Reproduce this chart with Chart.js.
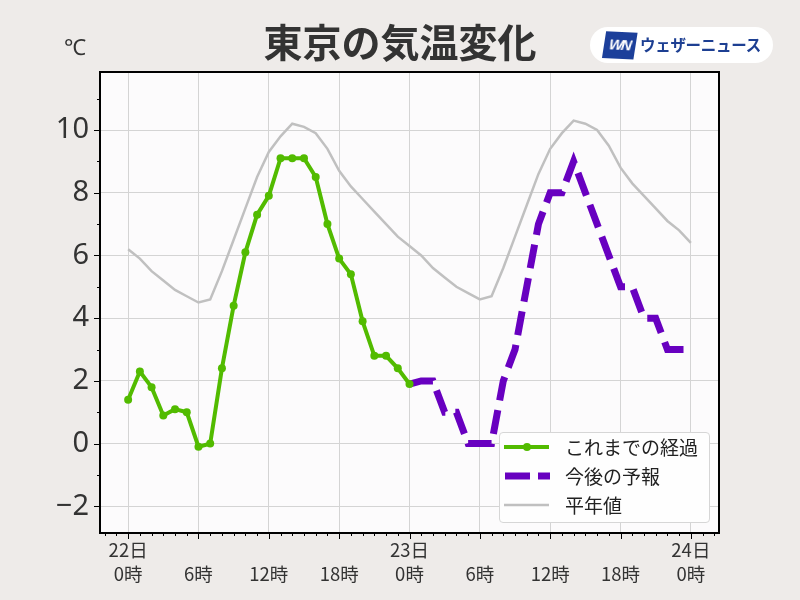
<!DOCTYPE html>
<html lang="ja">
<head>
<meta charset="utf-8">
<script src="https://cdn.jsdelivr.net/npm/chart.js@4.4.0/dist/chart.umd.min.js"></script>
<style>
  html, body { margin:0; padding:0; background:#eeebe9; }
  #wrap { position:relative; width:800px; height:600px; overflow:hidden; }
  #c { position:absolute; left:0; top:0; }
  .title { position:absolute; left:0; width:800px; top:12px; text-align:center;
    font:bold 39px "Noto Sans CJK JP", sans-serif; color:#333; }
  .unit { position:absolute; left:64px; top:31px; font:22px "Noto Sans", sans-serif; color:#333; }
  .logo { position:absolute; left:590px; top:27px; width:183px; height:36px; background:#fff;
    border-radius:18px; }
  .logo .mark { position:absolute; left:14px; top:5px; width:31px; height:26px; background:#1c3f9a;
    transform:skewX(-6deg) rotate(3deg); color:#fff; font:italic bold 15px "Liberation Sans", sans-serif;
    line-height:26px; text-align:center; letter-spacing:-2px; }
  .logo .txt { position:absolute; left:50px; top:6px; font:bold 15.5px "Noto Sans CJK JP", sans-serif;
    color:#1d3f92; white-space:nowrap; letter-spacing:-0.3px; }
  .legend { position:absolute; left:499px; top:432px; width:211px; height:91px; background:#fefefe;
    border:1px solid #d6d6d6; border-radius:4px; box-sizing:border-box; }
  .legend .row { position:absolute; left:0; height:28px; width:210px; }
  .legend svg { position:absolute; left:3px; top:0; }
  .legend span { position:absolute; left:65px; top:0; font:19px "Noto Sans CJK JP", sans-serif; color:#222;
    line-height:28px; white-space:nowrap; }
</style>
</head>
<body>
<div id="wrap">
  <canvas id="c" width="800" height="600"></canvas>
  <div class="title">東京の気温変化</div>
  <div class="unit">℃</div>
  <div class="logo"><div class="mark">WN</div><div class="txt">ウェザーニュース</div></div>
  <div class="legend">
    <div class="row" style="top:0px">
      <svg width="50" height="28"><line x1="1" y1="14" x2="46" y2="14" stroke="#52bb00" stroke-width="4"/><circle cx="24" cy="14" r="4" fill="#52bb00"/></svg>
      <span>これまでの経過</span>
    </div>
    <div class="row" style="top:29px">
      <svg width="50" height="28"><line x1="2" y1="14" x2="47" y2="14" stroke="#6800c0" stroke-width="7" stroke-dasharray="25,8"/></svg>
      <span>今後の予報</span>
    </div>
    <div class="row" style="top:58px">
      <svg width="50" height="28"><line x1="1" y1="14" x2="46" y2="14" stroke="#c0c0c0" stroke-width="2.5"/></svg>
      <span>平年値</span>
    </div>
  </div>
</div>
<script>
// ─── data (hours from 22日0時) ───────────────────────────────────────────────
const obsHours = [0,1,2,3,4,5,6,7,8,9,10,11,12,13,14,15,16,17,18,19,20,21,22,23,24];
const obsTemp  = [1.4,2.3,1.8,0.9,1.1,1.0,-0.1,0.0,2.4,4.4,6.1,7.3,7.9,9.1,9.1,9.1,8.5,7.0,5.9,5.4,3.9,2.8,2.8,2.4,1.9];

const fcstHours = [24,25,26,27,28,29,30,31,32,33,34,35,36,37,38,39,40,41,42,43,44,45,46,47,48];
const fcstTemp  = [1.9,2.0,2.0,1.0,1.0,0.0,0.0,0.0,2.0,3.0,5.0,7.0,8.0,8.0,9.0,8.0,7.0,6.0,5.0,5.0,4.0,4.0,3.0,3.0,3.0];

const normHours = [0,1,2,3,4,5,6,7,8,9,10,11,12,13,14,15,16,17,18,19,20,21,22,23,24,
                   25,26,27,28,29,30,31,32,33,34,35,36,37,38,39,40,41,42,43,44,45,46,47,48];
const normTemp  = [6.2,5.9,5.5,5.2,4.9,4.7,4.5,4.6,5.5,6.5,7.5,8.5,9.3,9.8,10.2,10.1,9.9,9.4,8.7,8.2,7.8,7.4,7.0,6.6,6.3,
                   6.0,5.6,5.3,5.0,4.8,4.6,4.7,5.6,6.6,7.6,8.6,9.4,9.9,10.3,10.2,10.0,9.5,8.8,8.3,7.9,7.5,7.1,6.8,6.4];

const xTicks = [0,6,12,18,24,30,36,42,48];
const xLabels = [['22日','0時'],['','6時'],['','12時'],['','18時'],['23日','0時'],['','6時'],['','12時'],['','18時'],['24日','0時']];
const yTicks = [-2,0,2,4,6,8,10];

const pts = (xs, ys) => xs.map((x, i) => ({x, y: ys[i]}));

// ── frame, background and tick marks ─────────────────────────────────────────
const framePlugin = {
  id: 'frame',
  beforeDraw(chart) {
    const {ctx, chartArea: a} = chart;
    ctx.save();
    ctx.fillStyle = '#fcfbfc';
    ctx.fillRect(a.left, a.top, a.right - a.left, a.bottom - a.top);
    ctx.restore();
  },
  afterDraw(chart) {
    const {ctx, chartArea: a, scales: {x, y}} = chart;
    ctx.save();
    ctx.strokeStyle = '#000';
    ctx.lineWidth = 1;
    ctx.beginPath();
    for (let h = -2; h <= 50; h++) {
      const px = Math.round(x.getPixelForValue(h)) + 0.5;
      const len = h % 6 === 0 ? 6 : 3;
      ctx.moveTo(px, a.bottom); ctx.lineTo(px, a.bottom + len);
    }
    for (let v = -2; v <= 11; v++) {
      const py = Math.round(y.getPixelForValue(v)) + 0.5;
      const len = v % 2 === 0 ? 6 : 3;
      ctx.moveTo(a.left, py); ctx.lineTo(a.left - len, py);
    }
    ctx.stroke();
    ctx.lineWidth = 2;
    ctx.strokeRect(a.left, a.top, a.right - a.left, a.bottom - a.top);
    ctx.restore();
  }
};

new Chart(document.getElementById('c'), {
  type: 'line',
  data: {
    datasets: [
      { label:'これまでの経過', data: pts(obsHours, obsTemp), borderColor:'#52bb00', backgroundColor:'#52bb00',
        borderWidth:4, pointRadius:4, pointBorderWidth:0, pointHoverRadius:4, tension:0 },
      { label:'今後の予報', data: pts(fcstHours, fcstTemp), borderColor:'#6800c0',
        borderWidth:7, borderDash:[24,10], borderCapStyle:'butt', borderJoinStyle:'miter', pointRadius:0, tension:0 },
      { label:'平年値', data: pts(normHours, normTemp), borderColor:'#c0c0c0',
        borderWidth:2.5, pointRadius:0, tension:0 }
    ]
  },
  options: {
    responsive:false, animation:false,
    layout: { padding: { top:72, right:81, left:0, bottom:0 } },
    plugins: { legend:{display:false}, tooltip:{enabled:false} },
    scales: {
      x: {
        type:'linear', min:-2.4, max:50.4,
        afterBuildTicks: s => { s.ticks = xTicks.map(v => ({value:v})); },
        afterFit: s => { s.height = 67; },
        grid: { color:'#d4d4d4', lineWidth:1, drawTicks:false },
        border: { display:false },
        ticks: {
          padding:4, color:'#333', maxRotation:0, autoSkip:false,
          font: { family:'"Noto Sans CJK JP", sans-serif', size:18.5, lineHeight:1.35 },
          callback: v => xLabels[xTicks.indexOf(v)] || ''
        }
      },
      y: {
        min:-2.85, max:11.85,
        afterBuildTicks: s => { s.ticks = yTicks.map(v => ({value:v})); },
        afterFit: s => { s.width = 100; },
        grid: { color:'#d4d4d4', lineWidth:1, drawTicks:false },
        border: { display:false },
        ticks: {
          padding:11, color:'#333',
          font: { family:'"Noto Sans", sans-serif', size:29 },
          callback: v => String(v).replace('-', '−')
        }
      }
    }
  },
  plugins: [framePlugin]
});
</script>
</body>
</html>
